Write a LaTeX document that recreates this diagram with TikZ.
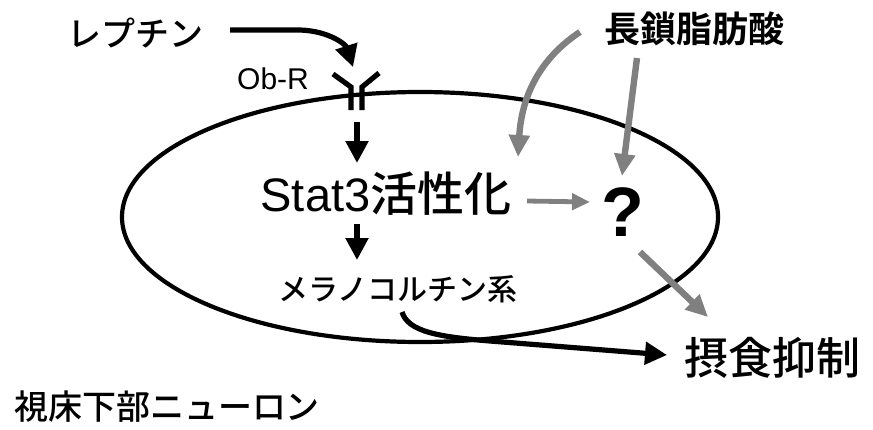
\documentclass[tikz,border=0pt]{standalone}
\usepackage{fontspec}
\setmainfont{Liberation Sans}
\newfontfamily\jp{Noto Sans CJK JP Medium}
\newfontfamily\jpb{Noto Sans CJK JP Bold}
\usetikzlibrary{arrows.meta}
\begin{document}
\begin{tikzpicture}[x=0.5pt,y=-0.5pt,
  blk/.style={line width=2.6pt, -{Triangle[length=11pt,width=11pt]}},
  gry/.style={draw=black!50, line width=3.2pt, -{Triangle[length=11pt,width=10pt]}},
  txt/.style={inner sep=0pt, anchor=center}]
\useasboundingbox (0,0) rectangle (873,429);
% membrane / neuron
\draw[line width=2.1pt] (420,217) ellipse [x radius=298, y radius=125];
% texts
\node[txt, font=\jp\fontsize{17pt}{20pt}\selectfont] (leptin) at (135,33) {レプチン};
\node[txt, font=\fontsize{15pt}{18pt}\selectfont] (obr) at (273,79) {Ob-R};
\node[txt, font=\fontsize{23.5pt}{28pt}\selectfont] (stat) at (386,194) {Stat3{\jp 活性化}};
\node[txt, font=\jp\fontsize{15pt}{18pt}\selectfont] (mc) at (398,289) {メラノコルチン系};
\node[txt, font=\bfseries\fontsize{35pt}{40pt}\selectfont] (q) at (623,212) {?};
\node[txt, font=\jpb\fontsize{18pt}{22pt}\selectfont] (lcfa) at (694,29) {長鎖脂肪酸};
\node[txt, font=\jp\fontsize{22pt}{26pt}\selectfont] (food) at (772,358) {摂食抑制};
\node[txt, font=\jp\fontsize{17pt}{20pt}\selectfont] (hypo) at (167,407) {視床下部ニューロン};
% receptor
\coordinate (recL) at (351,110);
\coordinate (recR) at (362,110);
\draw[line width=2.6pt] (333,74) -- (351,87) -- (recL);
\draw[line width=2.6pt] (379,73) -- (362,87) -- (recR);
% named end points
\coordinate (lepStart) at (230,30);
\coordinate (lepTip) at (353,67);
\coordinate (d1s) at (357,122);
\coordinate (d1t) at (357,163);
\coordinate (d2s) at (357,224);
\coordinate (d2t) at (357,260);
\coordinate (mcs) at (402,312);
\coordinate (foodTip) at (667,355);
\coordinate (gAs) at (580,32);
\coordinate (gAt) at (518,157);
\coordinate (gBs) at (637,58);
\coordinate (gBt) at (622,176);
\coordinate (gCs) at (640,252);
\coordinate (gCt) at (708,317);
\coordinate (gDs) at (527,201);
\coordinate (gDt) at (590,202);
% black arrows
\draw[blk] (lepStart) -- (300,30) .. controls (330,31) and (346,45) .. (lepTip);
\draw[blk] (d1s) -- (d1t);
\draw[blk] (d2s) -- (d2t);
\draw[blk] (mcs) .. controls (408,332) and (440,337) .. (490,341) -- (foodTip);
% grey arrows
\draw[gry] (gAs) .. controls (545,55) and (522,90) .. (gAt);
\draw[gry] (gBs) -- (gBt);
\draw[gry] (gCs) -- (gCt);
\draw[gry, line width=2.4pt, -{Triangle[length=9pt,width=8pt]}] (gDs) -- (gDt);
\end{tikzpicture}
\end{document}
